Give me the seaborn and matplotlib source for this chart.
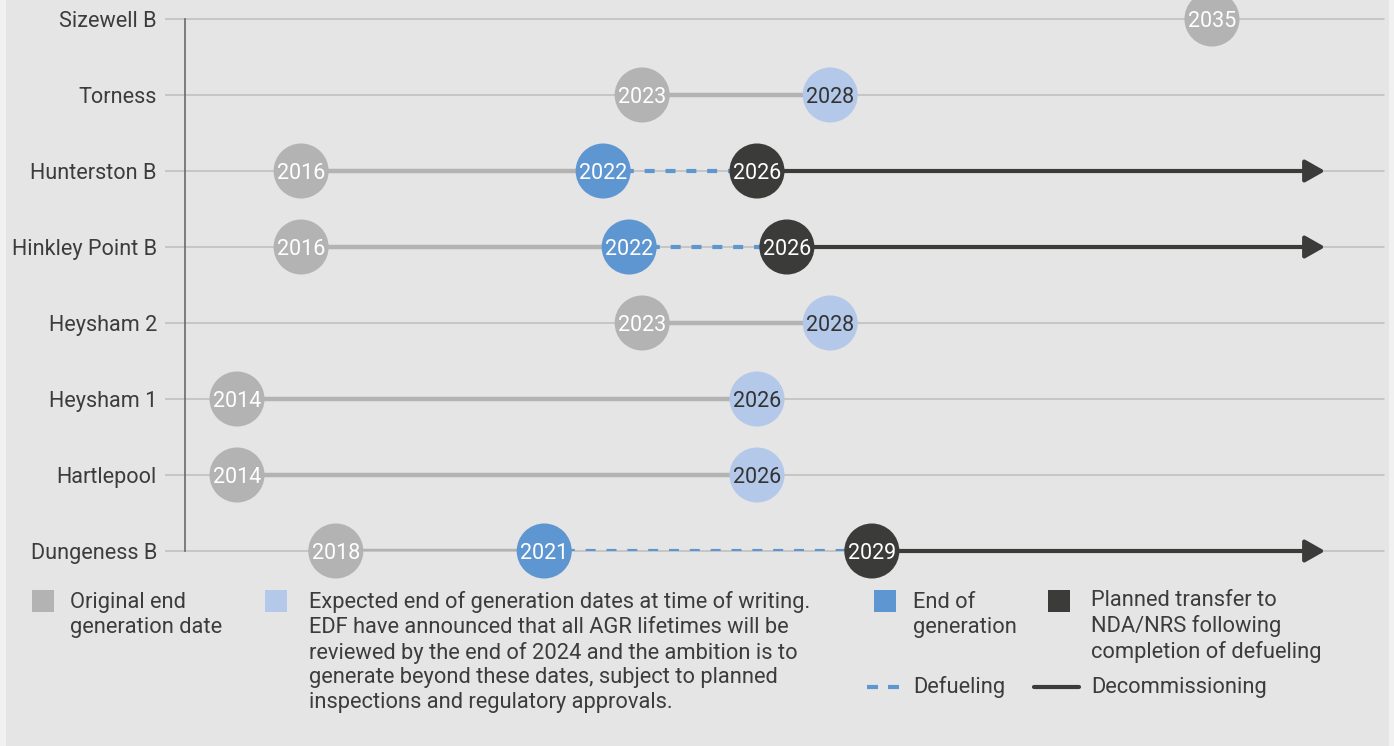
import numpy as np
import pandas as pd
import seaborn as sns
import matplotlib.pyplot as plt
from matplotlib.patches import Rectangle
from matplotlib.lines import Line2D

# AGR stations, top to bottom
stations = ["Sizewell B", "Torness", "Hunterston B", "Hinkley Point B",
            "Heysham 2", "Heysham 1", "Hartlepool", "Dungeness B"]

# positions on the time axis (decimal years) + labels
orig_pos = [2036.50, 2023.35, 2015.48, 2015.48, 2023.35, 2014.00, 2014.00, 2016.28]
orig_lbl = ["2035", "2023", "2016", "2016", "2023", "2014", "2014", "2018"]
exp_pos = [np.nan, 2027.69, np.nan, np.nan, 2027.69, 2026.00, 2026.00, np.nan]
exp_lbl = ["", "2028", "", "", "2028", "2026", "2026", ""]
gen_pos = [np.nan, np.nan, 2022.45, 2023.05, np.nan, np.nan, np.nan, 2021.09]
gen_lbl = ["", "", "2022", "2022", "", "", "", "2021"]
nda_pos = [np.nan, np.nan, 2026.00, 2026.69, np.nan, np.nan, np.nan, 2028.65]
nda_lbl = ["", "", "2026", "2026", "", "", "", "2029"]
decom_end = [np.nan, np.nan, 2039.11, 2039.11, np.nan, np.nan, np.nan, 2039.11]

x_range = (2012.80, 2040.47)

GREY = "#b3b3b3"
LBLUE = "#b4c8ea"
BLUE = "#5e96d2"
DARK = "#3b3b39"
TXT = "#3c3c3c"
BG = "#e5e5e5"
GRID = "#bdbdbd"
colors = {"orig": GREY, "exp": LBLUE, "gen": BLUE, "nda": DARK}
text_col = {"orig": "white", "exp": "#333333", "gen": "white", "nda": "white"}

sns.set_theme(style="white")
plt.rcParams["font.family"] = ["Roboto", "DejaVu Sans"]

rows = []
for kind, pos, lbl in [("orig", orig_pos, orig_lbl), ("exp", exp_pos, exp_lbl),
                       ("gen", gen_pos, gen_lbl), ("nda", nda_pos, nda_lbl)]:
    for i, (p, l) in enumerate(zip(pos, lbl)):
        if not np.isnan(p):
            rows.append(dict(station=stations[i], row=i, year=p, label=l, kind=kind))
df = pd.DataFrame(rows)

W, H = 1394, 746
fig = plt.figure(figsize=(W / 100, H / 100), dpi=100, facecolor="#f1f1f1")
fig.patches.append(Rectangle((6 / W, 0), (1389 - 6) / W, 1, transform=fig.transFigure,
                             facecolor=BG, edgecolor="none", zorder=-10))

ax = fig.add_axes([185 / W, (H - 551) / H, (1384 - 185) / W, (551 - 19) / H])
ax.set_facecolor("none")

# connecting lines
for i in range(len(stations)):
    end = exp_pos[i] if not np.isnan(exp_pos[i]) else gen_pos[i]
    if not np.isnan(end):
        ax.hlines(i, orig_pos[i], end, color=GREY, lw=3.2, zorder=2)
    if not np.isnan(gen_pos[i]):
        ax.plot([gen_pos[i], nda_pos[i]], [i, i], color=BLUE, lw=3,
                dashes=(2.4, 2.6), zorder=2)
    if not np.isnan(decom_end[i]):
        ax.annotate("", xy=(decom_end[i], i), xytext=(nda_pos[i], i),
                    arrowprops=dict(arrowstyle="-|>,head_length=12,head_width=6.8",
                                    mutation_scale=1, lw=3, color=DARK,
                                    shrinkA=0, shrinkB=0), zorder=2)

sns.scatterplot(data=df, x="year", y="row", hue="kind", palette=colors, s=1570,
                linewidth=0, legend=False, ax=ax, zorder=4)
ax.collections[-1].set_clip_on(False)

# year labels inside the circles, baseline set so the digits sit centred
for _, r in df.iterrows():
    ax.annotate(r["label"], (r["year"], r["row"]), xytext=(0, -5.6),
                textcoords="offset points", ha="center", va="baseline",
                fontsize=15.5, color=text_col[r["kind"]], zorder=5,
                annotation_clip=False)

ax.set_xlim(*x_range)
ax.set_ylim(len(stations) - 1, 0)
ax.set_yticks(range(len(stations)))
ax.set_yticklabels(stations)
ax.set_xticks([])
ax.set_xlabel("")
ax.set_ylabel("")
ax.set_axisbelow(True)
ax.grid(axis="y", color=GRID, lw=1.1)
for gl in ax.get_ygridlines():
    gl.set_clip_on(False)
ax.tick_params(axis="y", length=14.4, width=1.1, color=GRID, pad=5.8,
               labelsize=15.6, labelcolor=TXT, left=True)
for s in ["top", "right", "bottom"]:
    ax.spines[s].set_visible(False)
ax.spines["left"].set_color("#6a6a6a")
ax.spines["left"].set_linewidth(1.2)


# legend, laid out by hand in pixel coordinates
def fx(x):
    return x / W


def fy(y):
    return 1 - y / H


LINE_H = 25  # px between legend text lines


def square(x, y, c):
    fig.patches.append(Rectangle((fx(x), fy(y + 22)), 22 / W, 22 / H,
                                 transform=fig.transFigure, facecolor=c,
                                 edgecolor="none"))


def label(x, y, s):
    # multi-line 'baseline' text is anchored at its last line
    n = s.count("\n")
    fig.text(fx(x), fy(y + n * LINE_H), s, fontsize=15.75, color=TXT,
             va="baseline", ha="left", linespacing=1.23)


square(32, 590, GREY)
label(70, 608, "Original end\ngeneration date")
square(265, 590, LBLUE)
label(309, 608, "Expected end of generation dates at time of writing.\n"
                "EDF have announced that all AGR lifetimes will be\n"
                "reviewed by the end of 2024 and the ambition is to\n"
                "generate beyond these dates, subject to planned\n"
                "inspections and regulatory approvals.")
square(874, 590, BLUE)
label(913, 608, "End of\ngeneration")
square(1048, 590, DARK)
label(1091, 608, "Planned transfer to\nNDA/NRS following\ncompletion of defueling")

fig.lines.append(Line2D([fx(867), fx(899)], [fy(687), fy(687)], transform=fig.transFigure,
                        color=BLUE, lw=3, dashes=(2.64, 2.4)))
label(913, 693, "Defueling")
fig.lines.append(Line2D([fx(1034), fx(1079)], [fy(687), fy(687)], transform=fig.transFigure,
                        color=DARK, lw=3))
label(1091, 693, "Decommissioning")

fig.savefig("out.png", dpi=100, facecolor=fig.get_facecolor())
